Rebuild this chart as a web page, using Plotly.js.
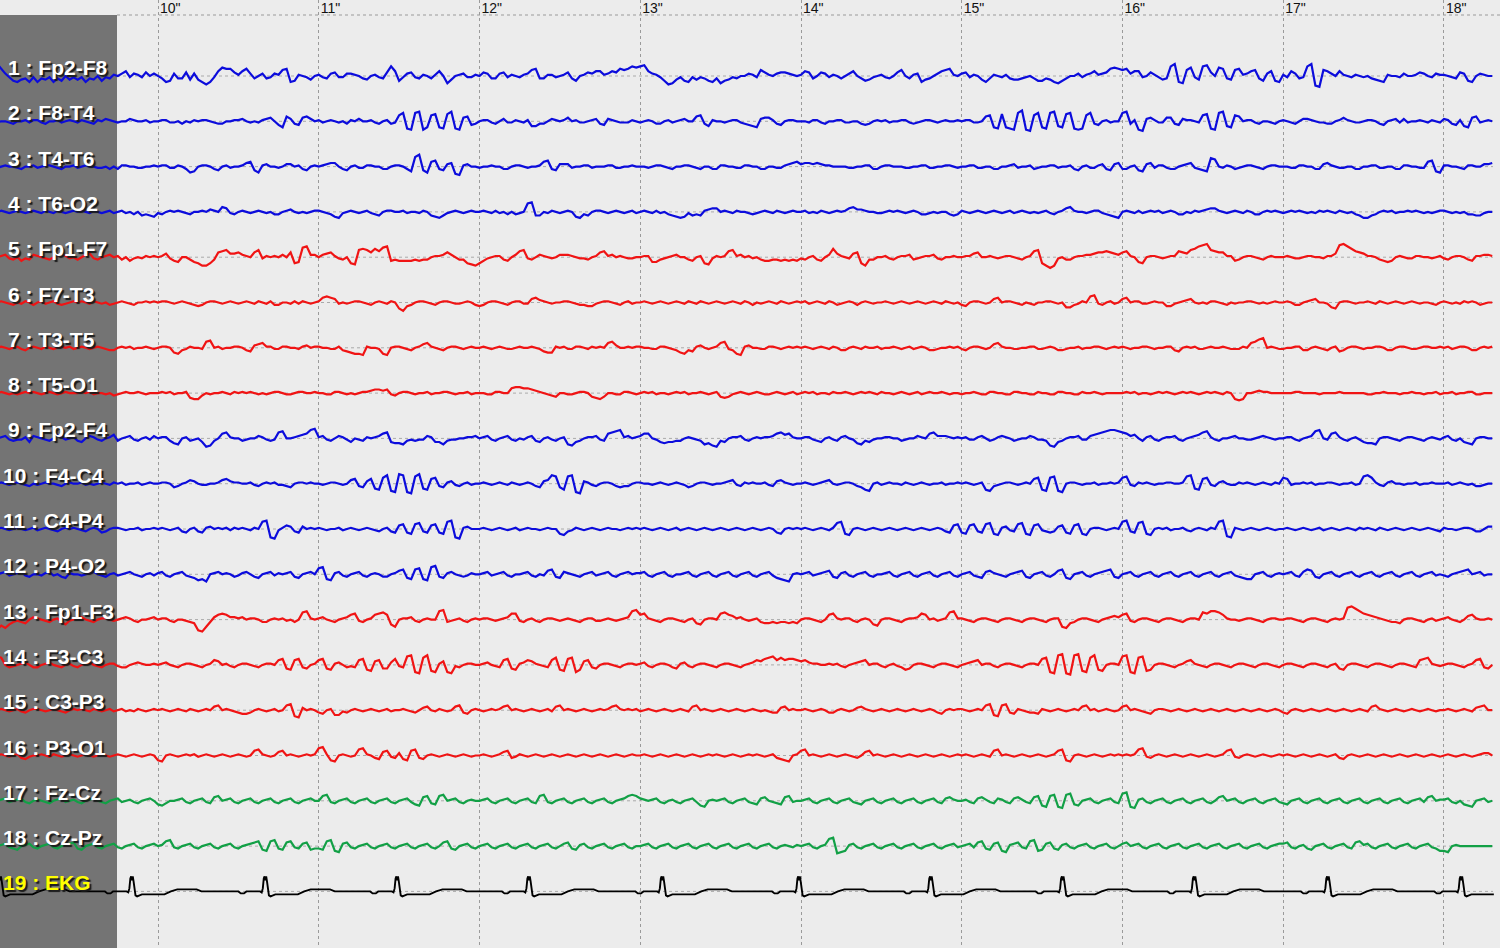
<!DOCTYPE html>
<html><head><meta charset="utf-8">
<script src="https://cdn.plot.ly/plotly-3.0.1.min.js"></script>
<style>html,body{margin:0;padding:0;background:#ececec;overflow:hidden}#chart{width:1500px;height:948px}</style>
</head><body><div id="chart"></div>
<script>
// ---- data ----
const channelLabels = ["1 : Fp2-F8","2 : F8-T4","3 : T4-T6","4 : T6-O2","5 : Fp1-F7","6 : F7-T3","7 : T3-T5","8 : T5-O1",
  "9 : Fp2-F4","10 : F4-C4","11 : C4-P4","12 : P4-O2","13 : Fp1-F3","14 : F3-C3","15 : C3-P3","16 : P3-O1",
  "17 : Fz-Cz","18 : Cz-Pz","19 : EKG"];
const tickSeconds = [10,11,12,13,14,15,16,17,18];
const sampleStart = 9.0;   // s
const sampleStep = 0.025;  // s, one letter per sample, 'm' = 0, one unit per letter step
const groupDur = 0.25;     // each space-separated group covers a quarter second
const ch01 = "wsolihjkhl hkjlhkimjl jlhkjmilkn moqlonlpmo mkhiokkpjo jhfhlqtssp nqsokmoklo nrshinmljm nlkoplloon mkjmnlkpuq iloplknmkn qmgjmnolln mpokkoplnm lnorskknnl mnpkimnpoq qnoqpsrsut uvqonlifgj lihljlkihk gijlkmmonl rpnmopponm nqpkmpolnm kmoqmkijlm nlkmprmkno hjkmoqrsnm oplnmjhknm lnkjjklmki ikjhgikmmo lnoqnopsts rsoqqlmpnl jkuwhgrtlj uvpmtskjrs noqrkioqih nlqokluwed rqomqnmlnm lmkjihnmml ommnpomlon nmlkpoihmo nmm";
const ch02 = "lmmlkmmnln nlkmmnlmnm lnmlknmonm lmmonmmnlm mnnllmkmln mnnmlkkmmn nomlmlnopm jhqokjpqom nlmnmlmknm ommnlkmnkl rtgftufhrs hgsugfpqjk mnnlkmolln mlniikkmon mnpmnllmno kjonmlllnm lmnmkkmnlm nommqrkinm mlmnnlkjih oppnkjmnnm mmlnnlkmmn nllmmkjkmn mnlmmnnlkl mnnmlmnmmn mnnllmqrhg shgftvfert hgtuihstgf grtkjmnlmm tuknfeopnl lppkjonnml rsgftuihrq mnnlkmmlkm nmlkmoonml lkkmnpnmll mnnmkjmnol olmmnmlnml onkjnihpql mnm";
const ch03 = "lmnmmlkmmn lmnnmlkmmn lmnmmllmkm knnmmllmmn mnnllnmkhi mnnmkjmnlm mnpqjhnomm lmoomnkjmn mnoppmkjmn llnnmmkkmn nmkiuwjhqr kjopgfnomm lmmnmmkkmn nmlmmnqrkj ooolmmnnlm mmnnllmmnm mmlmnnmlkm mnnmlkmmkk nnmmllnnmm kkmmllnopq oppoponnmm mmllmmnnkk mnnmmmllmm nnllmmnnml mmnnllmmkk mmnolmmnkl mmnnlmmnkj mnllnokjop kkmnjiopln nlkkmnoplk jitsmlnmkl mnnmlkmnnm mmllnnmmkk opnmllmmkk mmnnllmmkk nnmmllqrih nnmmlknnmm oop";
const ch04 = "mnmlmnmlmn mlnmlnmlmn mnmlnmlmnl mnlmkmjkji lkmnmnmlkm mnmonmqplk mnmlmnmlmk kmnomlmlmn nmlkihlmnm lmnlkjmnnm mnlmmlnmji hjlmnmlmnm mnmlnlmkmk lmtujjmlnm lmnmihkjmn nmlmnmlmnl mnmlnlmkji hiljkjnopp mnmlnmmlkl mnmlnmlmnm mnlmlnmlmn mnpqoonmml lmnmnmlmnm kklmlmmkjk nmlmnmlmnm lmnlmnmlml mnlkmnpqnm mlmnnlkjih mnmlnlmnmn lmnmkkmlnm noppnmlmnm lnmkkmnmnm lmnmnmlmln mnmlnmlmkj hhjkmnmnlm mnmnmlmlmn nmlmlmkkjj lmm";
const ch05 = "mnolkmjlko nmlkmnpnlm kmoplkmnom nkmjlmlnmn mnpljimmki hffhkqrspp qonmqslnmn momqhiuvoo mopqnlkmhg stsqtruvjk jjjjkjkkmn noqomkkhgf hjlmnnkjmo rslkmonmlm ooonmllkmn qrnomnmllm mnniiklmno mmkjmnhgln mnrsnomnlm kjjkkjkjkj lkmnkjmotp nmlpqhfkkm mnlkmnnokl mnnolkmmnm mnnpqmmnml mnnmlkmnrs hfdflmkkmn noopqqrqpo qrnmihmnnm lmnnrqpstv wxsrqqnnjk mnnmlkmnmm mnmllmnnmm lnnpwxvtrq pnnmkjijmn mllnnmmlmn lkmnnmkjnn oon";
const ch06 = "mnmlkmlnmk mnlmnlklmn mnmlnmlmkl mnmlkmmnmn mnnmlmnmlk jkmnnmlmnm lmnmlnmlnk kmmlnlnmlm nqrqplmlmn nmlkmnmlnm hfjkmnnmlk mnnmllmnmk jkmnnmlkmn nllpqonmlm mnnmlkkjjl mnnmlkmnlm mnmlmnmlmn mlnmlnmlmn mlmnmlnmkm lmnmlnmlmn mnlmnmlnmk lmnmkmnmlm mnmlmnmlmn mlmnmlnmlm kjmnnmlmpq mnnmlkmlkm mnnmlmiikl nmrslkmnlm pqmnnllmnm mjjlmnopml mlnnmlkmlm mnnmlmlmnm mnmkkmnopm mlihmnnmlm mnmlnmlmnm lmnmlmmlkm nmlmlnmnmk lmm";
const ch07 = "mnmlmnlkmn mlnmlmnmnl mnmlmnmlkk mnmnlmmnml mnnmihklnm mlrsmnlmmn nmkjopqnnl lnnmmlnomn nmmllnkjih hgnmmlhgmn nmlkmnpqnm lkmnnmlmnm mnmlmnmllm nmmnmljiin mnllnnmlnm nmqrommnmn nmmllnnmlk ihkjnomlmn qrlkhgnomm llnnmlmnmn mnmlmnmlnm kkmnmlnmmn lmmnmlmnlm nmkklmmnmn lkmnnmlmpq nmmllmmnnl lmnmkklmmn lmmnnmlmnm nmlmmnnmlm mnnkjmnmnl lmnmmnmlll nmqrtumnml lmmnnkkmnm lkmnjkmnnm lmmnnmkkmn nmllmnnmmn mnlmnnmkkm nmn";
const ch08 = "mnmlmlmnmn mlmnmlmnmm mnmnlmmlmk lmnmmnmlmm mnmnlmmnih hkmlmmnmln mnmnmlmlmn nmllmnnmmn mmllnnmlml mnnoppoplk mnnmlmmnlm mnnmlmmnlm mmllnnmmqr rqqponmlkj mmllmnnmji hjmmllnnml mnmnlmmlmn mnlmmnmlmn jijlmnmlmn mllmnmlmnl mnmnlmmlnm mnmlmnmnml nmmlmnmlmn lmnmmnmlmm lmmnmllnnm mllnnmmlln mmllnnmmll nmmnmlmmmm mnmnlmmlmn mnmlmnmnml mnmnmlnmhg hmmnonnmmm mmmnnmmmml mmmmnmmmmm mllmmnmmml mmnmmlmmnl mmnlmmnnll mmm";
const ch09 = "mnolkllnjo nmlkmpnlmn kjmonlkmnp kmnolkmnlo mnnkihmnkl mjfgkmqrnm mklmmonlkl rsmmnopqtu nolkmonljm lknmnoqrji ihklkllonj jhkllmmnno mnolkmnolk mlnokjmnlk mnhgjkmnno lkqrstnomn oqqmljijjk kmnmlkhigf kjmnnolkmn mnnoqrpqnm mnnlkjmnlk nomlihkjlm mnnmmklmmo nmqrooonmn mnllnomkln onmklmmonl lkgfjkmnno llopqrstts rqopmknolk mnnolkmnop rsnlkmmnom mllmnonmlm mnnlkmnost mlqrnlkmnl jiihmnnmlk mnnmlkmnml nolkmjihmn nmm";
const ch10 = "mnmlmnmlkm lmnmmlkmnm mnlmlmnmln mnlmmnlmnm mnnmjkmnpo mllmmnpqon nmmnlkmnmn llkjmnnmnm mlmnnmlmpq kjoqihrtgf utfesuihqr kjnolkmnlm mnmlmnmlnm lmnmkjopts jhstfeonlk mnnmkjkkmn nmmlmnmlmn mljkmnnmlm mnoplknmnm mnlkopnmlm mnmlmnopml mnnmkjhgmn lmnmmlnmlm nmlmmnlmmn mnmlmnhgkl mnnmlmnmqr hgrsgfmnnm lmmnlmmnmn rslknmnmlm mnnmmnstih qrlknomlln mnmlmnmlnm rqlmmnmnlm mnnmlmmnlm strnlknomm lmmnlmmnmm mnlmnmlmkk lmm";
const ch11 = "mnmlmnmlmn lmnmlkmnmn mlkmnmjkmn nmlmmnlmmn mnmlmnkjmn kjnomnmnln mnmlnmstfe lnpokjomnm nmlmmnlmnm lmnmlkmnkj pqjiqrkjpq jistfenomm mnmlmnmlmn lmnmmlmnmm ihklnmlmnm lmnmmlmnmn mnmlmnmlmn lmnmlmnmlm nmlmnmlmnm lmnmjimnmn mnmlmnmlnr sihmnmlmnm lmnmlmnmlm nmlmnmkjpq jipqkjqrih nolkqrihpq lkjkopjipq ihmnnmlmnm stkjrsihmn mnlmmnlkmn mlnmstgfnm lmnmlmnmlm mnmlmnmlmn lmnmlmnmln mnmlnmlmnm lmnmlmnmlk nmmlmnnmkk moo";
const ch12 = "mnolmnolkm mlnolmkjnm mlmnomlkmn lmnomlkmnl nolkmnolkj higmnomnmk lnomkjmnol nmnokjmnom rsihnolkmn olkmnmkkmn pqjiqrihst kjnomlklnm mnolmnolkm mnolkmlpqk jonmlkmnol mnolkmnomn nolkmnolkm mnolkmnolk mnolkmnolk mnoljihgmn mnolmnopkj nolkmnolkm mnolkmnolk mnolkmnolk mnolkjopnm lkmnopkjmn olkmpqjimn olkmnopqkj mnolkmnolk mnolkmnolk mnolkmnolk jiimnolkmn mnolkoqpkj mnolkmnolk mnolkmnolk mnolkmnolm lkmnopqmno lmm";
const ch13 = "ehfiklkjmo nmlkmnkilm nomlkmnnml mnonlkmmno mnnlkmmlkj dcgkoqrqoo nomnnmkkmn mnlmkmstnm nomlkmnoqr lkmnqrsqig mnnolkmnmm tuklmnlkmn mnnmlmnorr lkmnlkmnnm lmnmlkmnnl lmnmlmnotu qrnmlkmnnm lkmnjimnnm rsqpnomlmn kjjkjkkjkj mnnmlkmqrn mnnlkmnmih mnnmlkmnno rqmnlmnstn nmlkmnnmlk mnnmlkmnnm lkmnngfjkm nnmlkmnopo qrlkmnnmlk mnnmlkmnnm srttsqnmml mnnmlkmnnm mnnmlkmnnm lkmnmnwxvt rqponmlkkj mnnmlkmnlm nomlkmpqnm mnm";
const ch14 = "tsmklmnomk kmnomlkmnl kmnomlkmnn lkkmnonmmn mnomlkmnnm lkmnqpmnlk mnnmlkmnnm qrjiqrkjmn qrjinomklk qrihpqjjor lktugfsuhg npgflkmnnm mnomlkqrji noqpnmlkqs ihrsgipqkj mnnmlkmnnm nolkmnnmkj nolkmnnmlk mnnmlkmnoq prstqsqrrq pqonnmmnmn lkmnopqmnn lkmnlkijmn nmlkmnnmlk mnopqmnnlk mnnmlkmnnm rsgfuvfeuv hgsuihmnnm tugfsthimn nmlkmnpqnm lkmnnmlkmn nmlkmnnmlk mnnmlkmnnm lkmnjimnnm lkmnnmlkmn nmlkqrsnml mnnmlkmnqr kjm";
const ch15 = "mnmlmnlkmn nmlmnmlkmn mnmlnmlmnl mnlmlnmlmn mnmlmnmlnm lmnmpqmnml kjjkmnmlmn lmqrhgomnm kjmniilkmn mlmnmlmnlm mnmlkmopml nmlmpqkjmn mlmnmnpqmn mlmnmlmnlp qmnmlmnmlm nmnpqnmnmn lmnmlmnmlm nmlpqmnmlm nmlmnmlmnm lmlkkopmnm mnmlmnmkkm nmlmopnmlm nmlmnmlmnm lmnmkjmnmn nmlmnmqrih qrkjnmlkkj nmlmnmlmnm pqmnlmnmlm pqmnmlkjmn nmlmnmlmnm lmnmlmnmlm nmlmnmlmnm kjmnmlmnml mnmlmnmlmn mlpqnmlmnm lmnmlmnmlm mnmlmnmlop qmm";
const ch16 = "mnmlmnkjlm mnmlnmlmnm lmnmlmnmlm nmlmnmlmnm ihmnmlmnmn lmnmlmnmlm nmlmqrnmlm pqmnmlmnmn stnihmnmlm rsnmkjpqlk ojiqrkjmnm lmnmlmnmlm mnmlmnpqkl nmlmnmlmnm lmnmlmnmlm nmlmnmlmnm mnmlmnmlmn mlmnmlmnmn mlmnmlmnmn mlmnkjihmn qrmnmlmnml mnmlkmpqmn mlmnmlmnml mnmlmnmlmn mnmlmnmlqr mnmlmnmlmn mlmnqrihmn mlmnmlmnmn mnmnrslkmn mlmnmlmnml mnmlmnqrlk mnmlmnmlmn mnmlmnmlmn mlmnkjmnml mnmlmnmlmn mlmnmlmnml mnmlmnmlmn oom";
const ch17 = "mnolmnolkm nmlkmnolmn lkmnomlkmn olmnlkmnom jikmmnolkm nolkpqmnol kmnolkmnol kmnolkmnom mqrlkmnolk mnolkmnolk mnoljipqkj qrmnolkmnm mnolkmnolk mnolkqrlkm nolkmnolkm nolkmnoqrq onmnolkmnl kmnolihmnm nolkmnolkj opmlkjpqlm mnolkmnolk mnolkjmnol kmnolkmnol kmnolkopnm mnlkopnlko nlkopnlkpq ihqrhgrsji mnolkmnolk sthgnolkmn olkmnolkmn olkmpqmnol kmnolkmnol kjmnolkmno lkmnolkmno lkmnolkmno lkmnolpqmn nolkmjihmn olm";
const ch18 = "mnolkjmnol kmnolkmnop kjmnolkmno lkmnolkmno mnqrlkmnol kmnolkmnol kmnopqjiqr kjpqlkopjk kjqrihoplk mnolkmnolk mnolkmnolk mpqkjmnolk mnolkmnolk mnolkmnolk mopkjnolkm nolkmnolkm mnolkmnolk mnolkmnolk mnolkmnolk mnolkmnmln mnolkmnstg hinolkmnol kmnolkmnol kmnolkmnol mnolpqkjop ihnoplkqri jopkjnolkm nolkmnolkm opmnolkmno lkmnolkmno lkmnolkmno lkmnolkmno oplkmnkjmn olkmnolkpq nolkmnolkm nolkmnolki ihmnmmmmmm mmm";
// EKG: R-peak times (s) and one beat's shape (offset s, value)
const ekgBeatTimes = [9.02, 9.84, 10.67, 11.49, 12.31, 13.14, 13.99, 14.81, 15.63, 16.45, 17.28, 18.11];
const ekgBeatOffsets = [-0.30,-0.17,-0.155,-0.135,-0.12,-0.035,-0.025,-0.018,-0.012,-0.007,-0.003,0.003,0.008,0.014,0.02,0.03,0.045,0.06,0.20,0.24,0.28,0.40,0.43];
const ekgBeatValues  = [0,0,-2,-2,0,0,-1,3,13,15,11,15,10,1,-4,-5,-4,-3,-3,0,2,2,0];

// ---- styling / layout ----
const W = 1500, H = 948;
const tLeft = 9.0171, tRight = 18.3484, tEnd = 18.31;
const firstBase = 76, spacing = 45.3, panelW = 117, topStrip = 15;
const eegGain = 1.2;   // display sensitivity (px per unit)
const blue = '#0c0cdc', red = '#f01414', green = '#12a046', black = '#000000';
const chColors = [blue,blue,blue,blue,red,red,red,red,blue,blue,blue,blue,red,red,red,red,green,green,black];
const eegData = [ch01,ch02,ch03,ch04,ch05,ch06,ch07,ch08,ch09,ch10,ch11,ch12,ch13,ch14,ch15,ch16,ch17,ch18];
const base = k => -(firstBase + k*spacing);

function decode(str){
  const t=[], v=[];
  str.trim().split(/\s+/).forEach((g,gi)=>{
    const step = g.length >= 10 ? groupDur/g.length : sampleStep;
    for(let j=0;j<g.length;j++){ t.push(sampleStart + gi*groupDur + j*step); v.push(g.charCodeAt(j)-109); }
  });
  return {t,v};
}

const traces = [];
eegData.forEach((str,k)=>{
  const d = decode(str);
  traces.push({x:d.t, y:d.v.map(a=>base(k)+a*eegGain), type:'scatter', mode:'lines',
    line:{color:chColors[k], width:2.2}, hoverinfo:'skip', showlegend:false});
});
const ekT=[], ekV=[];
ekgBeatTimes.forEach(bt=>ekgBeatOffsets.forEach((o,i)=>{ const t=bt+o; if(t<=tEnd){ekT.push(t); ekV.push(base(18)+ekgBeatValues[i]);} }));
traces.push({x:ekT, y:ekV, type:'scatter', mode:'lines', line:{color:black, width:1.9}, hoverinfo:'skip', showlegend:false});

const shapes = [
  {type:'rect', xref:'paper', yref:'y', x0:0, x1:panelW/W, y0:-topStrip, y1:-H, fillcolor:'#747474', line:{width:0}, layer:'between'},
  {type:'line', xref:'paper', yref:'y', x0:panelW/W, x1:1, y0:-topStrip, y1:-topStrip, line:{color:'#9a9a9a', width:1, dash:'dot'}, layer:'between'}
];
channelLabels.forEach((_,k)=>shapes.push({type:'line', xref:'paper', yref:'y', x0:panelW/W, x1:1493/W, y0:base(k), y1:base(k),
  line:{color:'#aaaaaa', width:1, dash:'dot'}, layer:'between'}));

const annotations = channelLabels.map((lab,k)=>({
  xref:'paper', yref:'y', x:1/W, y:base(k)+8.5, xanchor:'left', yanchor:'middle', showarrow:false,
  xshift: k<9 ? 5 : 0,
  text:lab,
  font:{family:'Liberation Sans, Arial, sans-serif', size:21, weight:700, color: k===18 ? '#ffff00' : '#ffffff',
        shadow:'2px 2px 1px #1a1a1a'}
}));

const layout = {
  width:W, height:H, margin:{l:0,r:0,t:0,b:0},
  paper_bgcolor:'#ececec', plot_bgcolor:'#ececec',
  xaxis:{range:[tLeft,tRight], showgrid:true, gridcolor:'#9a9a9a', griddash:'dot', gridwidth:1,
    tickmode:'array', tickvals:tickSeconds, ticktext:tickSeconds.map(s=>s+'"'),
    side:'top', ticks:'', ticklabelposition:'inside right', ticklabelstandoff:-3, ticklabelshift:2, ticklabeloverflow:'allow',
    tickfont:{family:'Liberation Sans, Arial, sans-serif', size:14, color:'#111'},
    zeroline:false, showline:false, automargin:false, fixedrange:true},
  yaxis:{range:[-H,0], visible:false, showgrid:false, zeroline:false, fixedrange:true},
  shapes, annotations
};
Plotly.newPlot('chart', traces, layout, {staticPlot:true, displayModeBar:false});
</script></body></html>
